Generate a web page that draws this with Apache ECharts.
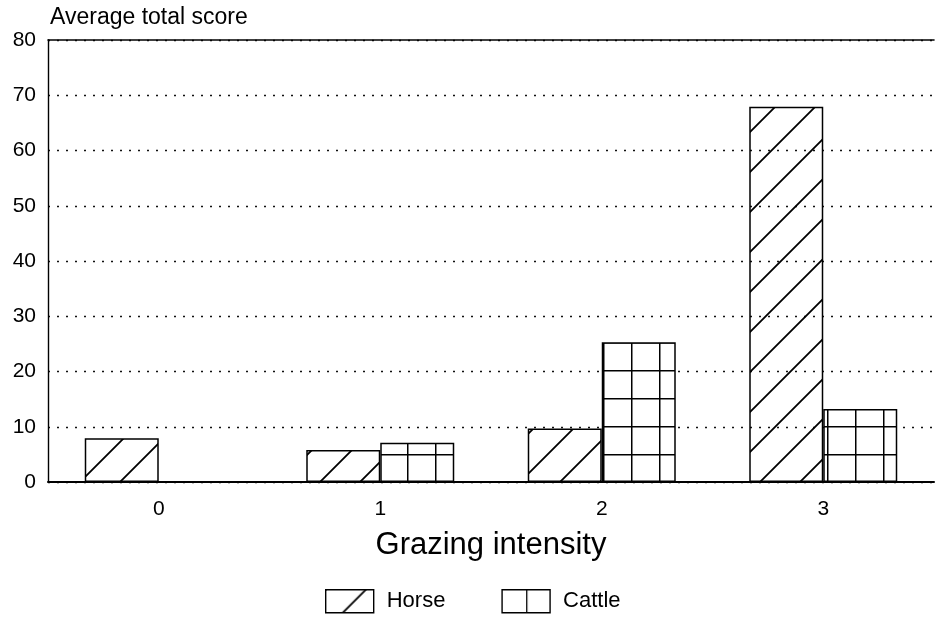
<!DOCTYPE html>
<html>
<head>
<meta charset="utf-8">
<script src="https://cdn.jsdelivr.net/npm/echarts@6/dist/echarts.min.js"></script>
<style>html,body{margin:0;padding:0;background:#fff}#c{width:935px;height:619px}</style>
</head>
<body>
<div id="c"></div>
<script>
const categories = ['0', '1', '2', '3'];
const horse = [7.9, 5.8, 9.7, 67.9];
const cattle = [0, 7.1, 25.3, 13.2];
const yTicks = [0, 10, 20, 30, 40, 50, 60, 70, 80];

const FONT = '"Liberation Sans", Arial, Helvetica, sans-serif';

function hatchCanvas() {
  const c = document.createElement('canvas');
  c.width = 40; c.height = 40;
  const g = c.getContext('2d');
  g.strokeStyle = '#000'; g.lineWidth = 1.8;
  g.beginPath();
  g.moveTo(-4, 44); g.lineTo(44, -4);
  g.moveTo(-6, 6); g.lineTo(6, -6);
  g.moveTo(34, 46); g.lineTo(46, 34);
  g.stroke();
  return c;
}
function gridCanvas(withH) {
  const c = document.createElement('canvas');
  c.width = 28; c.height = 28;
  const g = c.getContext('2d');
  g.fillStyle = '#fff'; g.fillRect(0, 0, 28, 28);
  g.fillStyle = '#000';
  g.fillRect(0, 0, 1.5, 28);
  if (withH) g.fillRect(0, 0, 28, 1.5);
  return c;
}
function vlineCanvas() {
  const c = document.createElement('canvas');
  c.width = 48; c.height = 48;
  const g = c.getContext('2d');
  g.fillStyle = '#fff'; g.fillRect(0, 0, 48, 48);
  g.fillStyle = '#000';
  g.fillRect(24, 0, 1.3, 48);
  return c;
}

const horsePattern = { image: hatchCanvas(), repeat: 'repeat', x: 2, y: 0 };
const cattlePattern = { image: gridCanvas(true), repeat: 'repeat', x: 15, y: 6 };
const horseLegendPattern = { image: hatchCanvas(), repeat: 'repeat', x: 0, y: 0 };
const cattleLegendPattern = { image: vlineCanvas(), repeat: 'repeat', x: 0, y: 0 };

const chart = echarts.init(document.getElementById('c'), null, { renderer: 'canvas' });
chart.setOption({
  animation: false,
  backgroundColor: '#fff',
  textStyle: { fontFamily: FONT, color: '#000' },
  grid: { left: 48, right: 1, top: 40, bottom: 137 },
  legend: {
    left: 325, top: 589, padding: 0,
    itemWidth: 48, itemHeight: 23, itemGap: 56,
    icon: 'rect',
    textStyle: { fontFamily: FONT, fontSize: 22, color: '#000', padding: [0, 0, 0, 8] },
    data: [
      { name: 'Horse', itemStyle: { color: horseLegendPattern, borderColor: '#000', borderWidth: 1.4 } },
      { name: 'Cattle', itemStyle: { color: cattleLegendPattern, borderColor: '#000', borderWidth: 1.4 } }
    ]
  },
  xAxis: [{
    type: 'category',
    data: categories,
    name: 'Grazing intensity',
    nameLocation: 'middle',
    nameGap: 48,
    nameTextStyle: { fontFamily: FONT, fontSize: 31, color: '#000' },
    axisLine: { show: true, lineStyle: { color: '#000', width: 2 } },
    axisTick: { show: false },
    axisLabel: { fontFamily: FONT, fontSize: 21, color: '#000', margin: 17 },
    splitLine: { show: false }
  }, {
    type: 'category',
    data: categories,
    position: 'top',
    axisLine: { show: true, lineStyle: { color: '#000', width: 1.6 } },
    axisTick: { show: false },
    axisLabel: { show: false },
    splitLine: { show: false }
  }],
  yAxis: {
    type: 'value',
    min: yTicks[0], max: yTicks[yTicks.length - 1], interval: 10,
    name: 'Average total score',
    nameLocation: 'end',
    nameGap: 11,
    nameTextStyle: { fontFamily: FONT, fontSize: 23, color: '#000', align: 'left', verticalAlign: 'bottom', padding: [0, 0, 0, 2] },
    axisLine: { show: true, lineStyle: { color: '#000', width: 1.4 } },
    axisTick: { show: false },
    axisLabel: { fontFamily: FONT, fontSize: 21, color: '#000', margin: 12 },
    splitLine: { show: true, lineStyle: { color: '#111', width: 1.4, type: [2, 7] } }
  },
  series: [{
    name: 'Horse',
    type: 'bar',
    data: horse,
    barWidth: 74,
    barGap: '0%',
    itemStyle: { color: horsePattern, borderColor: '#000', borderWidth: 1.5 }
  }, {
    name: 'Cattle',
    type: 'bar',
    data: cattle,
    barWidth: 74,
    barGap: '0%',
    itemStyle: { color: cattlePattern, borderColor: '#000', borderWidth: 1.5 }
  }]
});
</script>
</body>
</html>
